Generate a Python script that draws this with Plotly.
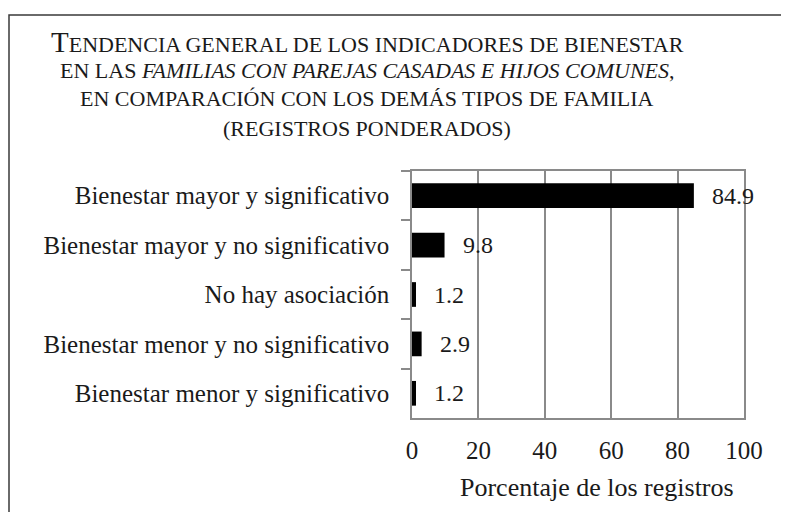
import plotly.graph_objects as go

categories = [
    "Bienestar mayor y significativo",
    "Bienestar mayor y no significativo",
    "No hay asociación",
    "Bienestar menor y no significativo",
    "Bienestar menor y significativo",
]
values = [84.9, 9.8, 1.2, 2.9, 1.2]
x_ticks = [0, 20, 40, 60, 80, 100]

FONT = "Liberation Serif"
TXT = "#1a1a1a"
GRID = "#8a8a8a"

OFF = 8  # page body margin
W, H = 789, 512
PL, PR, PT, PB = 412, 744, 171, 418
L, T = PL - OFF, PT - OFF
R = W - (PR - OFF)
B = H - (PB - OFF)
pw, ph = PR - PL, PB - PT

def px(xp):
    return (xp - PL) / pw

def py(yp):
    return (PB - yp) / ph

fig = go.Figure()
fig.add_trace(go.Bar(
    x=values, y=categories, orientation="h",
    marker=dict(color="black", line=dict(width=0)),
    width=0.5, hoverinfo="skip",
))

for c, v in zip(categories, values):
    fig.add_annotation(x=v, y=c, text=f"{v:.1f}", showarrow=False,
                       xanchor="left", xshift=16,
                       font=dict(family=FONT, size=24, color=TXT))

title_lines = [
    "<span style='font-size:29px'>T</span>ENDENCIA GENERAL DE LOS INDICADORES DE BIENESTAR",
    "EN LAS <i>FAMILIAS CON PAREJAS CASADAS E HIJOS COMUNES</i>,",
    "EN COMPARACIÓN CON LOS DEMÁS TIPOS DE FAMILIA",
    "(REGISTROS PONDERADOS)",
]
title_y = [42, 71, 99, 128]
for t, yy in zip(title_lines, title_y):
    fig.add_annotation(x=px(367), y=py(yy), xref="paper", yref="paper",
                       text=t, showarrow=False, xanchor="center", yanchor="middle",
                       font=dict(family=FONT, size=22, color=TXT))

fig.add_annotation(x=px(597), y=py(487), xref="paper", yref="paper",
                   text="Porcentaje de los registros", showarrow=False,
                   xanchor="center", yanchor="middle",
                   font=dict(family=FONT, size=26, color=TXT))

fig.add_shape(type="rect", xref="paper", yref="paper",
              x0=px(9), x1=px(840), y0=py(580), y1=py(15),
              line=dict(color="#3a3a3a", width=1.5), fillcolor="rgba(0,0,0,0)",
              layer="below")

fig.update_layout(
    width=W, height=H,
    margin=dict(l=L, r=R, t=T, b=B),
    paper_bgcolor="white", plot_bgcolor="white",
    showlegend=False,
    font=dict(family=FONT, size=24, color=TXT),
)
fig.update_xaxes(
    range=[0, 100], tickvals=x_ticks, ticktext=[str(t) for t in x_ticks],
    showgrid=True, gridcolor=GRID, gridwidth=1.5,
    showline=True, linecolor=GRID, linewidth=1.5, mirror=True,
    ticks="", ticklabelstandoff=9, zeroline=False,
    tickfont=dict(family=FONT, size=25, color=TXT),
)
fig.update_yaxes(
    categoryorder="array", categoryarray=categories, autorange="reversed",
    showline=True, linecolor=GRID, linewidth=1.5, mirror=True,
    ticks="outside", tickson="boundaries", ticklen=9, tickcolor=GRID, tickwidth=1.5,
    showgrid=False, ticklabelstandoff=16,
    tickfont=dict(family=FONT, size=25, color=TXT),
)

fig.write_html("out.html")
